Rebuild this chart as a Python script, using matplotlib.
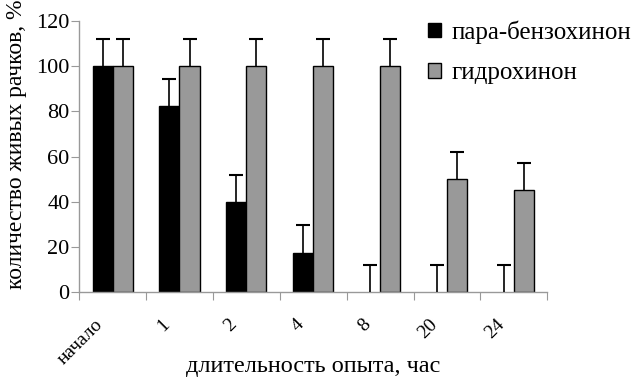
import matplotlib.pyplot as plt
import matplotlib.transforms as mtransforms
import numpy as np

plt.rcParams['font.family'] = ['Liberation Serif', 'DejaVu Serif']

categories = ["начало", "1", "2", "4", "8", "20", "24"]
benzoquinone = [100, 82.5, 40, 17.5, 0, 0, 0]
benzoquinone_err = [12, 12, 12, 12, 12, 12, 12]
hydroquinone = [100, 100, 100, 100, 100, 50, 45]
hydroquinone_err = [12, 12, 12, 12, 12, 12, 12]

fig = plt.figure(figsize=(6.36, 3.78), dpi=100)
ax = fig.add_axes([0.1245, 0.2275, 0.736, 0.7165])

x = np.arange(len(categories))
w = 0.3
lw_b = [1 if v > 0 else 0 for v in benzoquinone]
lw_h = [1 if v > 0 else 0 for v in hydroquinone]
ax.bar(x - w/2, benzoquinone, w, color="black", edgecolor="black", linewidth=lw_b,
       label="пара-бензохинон", zorder=2)
ax.bar(x + w/2, hydroquinone, w, color="#999999", edgecolor="black", linewidth=lw_h,
       label="гидрохинон", zorder=2)

# one-sided error bars: a stem going up and a cap on top only
for xs, vals, errs in [(x - w/2, benzoquinone, benzoquinone_err),
                       (x + w/2, hydroquinone, hydroquinone_err)]:
    tops = np.array(vals) + np.array(errs)
    ax.vlines(xs, vals, tops, color="black", linewidth=1.2, zorder=3)
    ax.plot(xs, tops, linestyle="none", marker="_", markersize=9.5,
            markeredgewidth=1.5, color="black", zorder=3)

ax.set_xlim(-0.5, len(categories) - 0.5)
ax.set_ylim(0, 120)
ax.set_yticks(range(0, 121, 20))
ax.set_xticks(np.arange(-0.5, len(categories)))
ax.set_xticklabels([])
ax.set_xticks(x, minor=True)
ax.set_xticklabels(categories, minor=True, rotation=45, ha="right", va="top", fontsize=14)
ax.tick_params(axis="x", which="minor", length=0, pad=17)
ax.tick_params(axis="x", which="major", length=6, color="#999999", direction="out")
ax.tick_params(axis="y", length=6, color="#999999", labelsize=16, pad=1)

# shift the rotated labels a little to the left, as in the original
shift = mtransforms.ScaledTranslation(-6/100, 0, fig.dpi_scale_trans)
for lab in ax.get_xticklabels(minor=True):
    lab.set_transform(lab.get_transform() + shift)

for side in ["top", "right"]:
    ax.spines[side].set_visible(False)
for side in ["left", "bottom"]:
    ax.spines[side].set_color("#999999")
    ax.spines[side].set_linewidth(1)

ax.set_xlabel("длительность опыта, час", fontsize=17.5)
ax.xaxis.set_label_coords((313 - 79) / 468, -0.238, transform=ax.transAxes)
ax.xaxis.label.set_va("top")
ax.set_ylabel("количество живых рачков, %", fontsize=17)
ax.yaxis.set_label_coords(17/636, 0.544,
                          transform=mtransforms.blended_transform_factory(fig.transFigure, ax.transAxes))
ax.yaxis.label.set_va("center")

ax.legend(loc="upper left", bbox_to_anchor=(428/636, 1 - 20/378), bbox_transform=fig.transFigure,
          frameon=False, fontsize=18, handlelength=0.5, handleheight=0.5, handletextpad=0.45,
          labelspacing=0.75, borderaxespad=0, borderpad=0)

fig.savefig("out.png", dpi=100)
